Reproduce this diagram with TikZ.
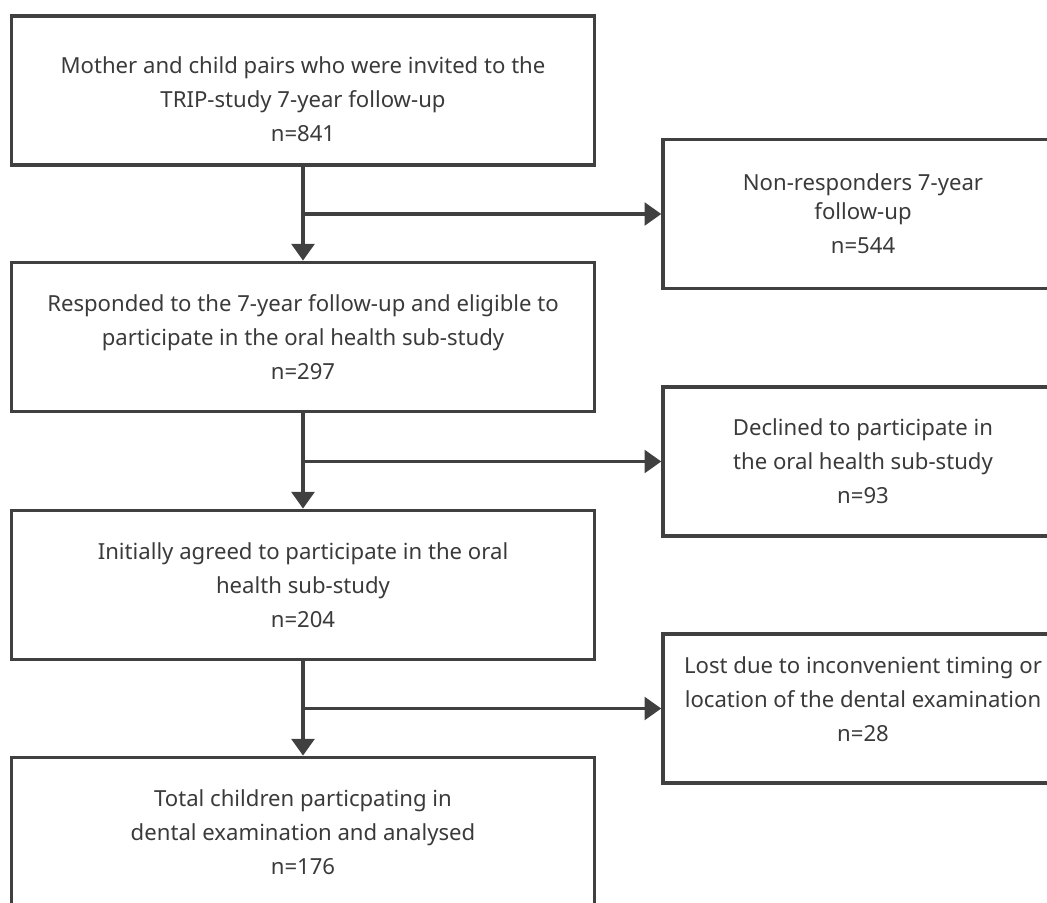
\documentclass[tikz,border=0pt]{standalone}
\usepackage{fontspec}
\setmainfont{Noto Sans}
\usepackage{xcolor}
\usetikzlibrary{arrows.meta}
\definecolor{linegray}{HTML}{404040}
\definecolor{textgray}{HTML}{3A3A3A}

\begin{document}
\begin{tikzpicture}[x=0.75pt,y=-0.75pt,
    box/.style={draw=linegray, line width=2.6pt, inner sep=0pt, align=center,
        text=textgray, font=\fontsize{16.6}{25.5}\selectfont,
        minimum width=437pt, minimum height=112pt},
    sidebox/.style={box, minimum width=300pt},
    arr/.style={draw=linegray, line width=2.6pt, -{Triangle[length=12.5pt,width=17pt]}}]
    \useasboundingbox (0,0) rectangle (1047,903);
    \clip (0,0) rectangle (1047,903);

    % Main column
    \node[box] (invited) at (303,90.5) {\rule{0pt}{26pt}Mother and child pairs who were invited to the\\TRIP-study 7-year follow-up\\n=841};
    \node[box] (responded) at (303,337) {Responded to the 7-year follow-up and eligible to\\participate in the oral health sub-study\\n=297};
    \node[box] (agreed) at (303,585) {Initially agreed to participate in the oral\\health sub-study\\n=204};
    \node[box] (analysed) at (303,832) {Total children particpating in\\dental examination and analysed\\n=176};

    % Exclusions
    \node[sidebox] (nonresp) at (863,214) {Non-responders 7-year\\[-3.75pt]follow-up\\n=544};
    \node[sidebox] (declined) at (863,461.5) {Declined to participate in\\the oral health sub-study\\n=93};
    \node[sidebox] (lost) at (863,708.5) {Lost due to inconvenient timing or\\location of the dental examination\\n=28\rule[-13.5pt]{0pt}{13.5pt}};

    % Flow
    \draw[arr] (invited) -- (responded);
    \draw[arr] (responded) -- (agreed);
    \draw[arr] (agreed) -- (analysed);

    % Branches
    \coordinate (j1) at (invited.south |- nonresp.west);
    \coordinate (j2) at (responded.south |- declined.west);
    \coordinate (j3) at (agreed.south |- lost.west);
    \draw[arr] (j1) -- (nonresp.west);
    \draw[arr] (j2) -- (declined.west);
    \draw[arr] (j3) -- (lost.west);
\end{tikzpicture}
\end{document}
